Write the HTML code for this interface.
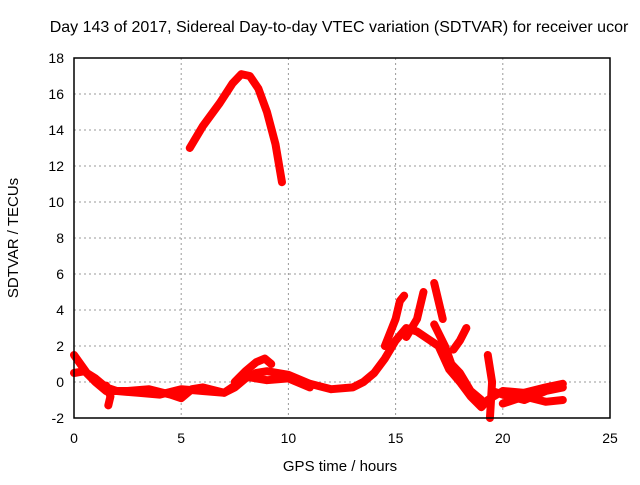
<!DOCTYPE html>
<html><head><meta charset="utf-8"><style>
body{margin:0;background:#fff}
svg text{font-family:"Liberation Sans",sans-serif;font-size:14px;fill:#000}
</style></head><body>
<svg id="c" width="640" height="480">
<rect width="640" height="480" fill="#fff"/>
<text x="339" y="32" text-anchor="middle" style="font-size:16px">Day 143 of 2017, Sidereal Day-to-day VTEC variation (SDTVAR) for receiver ucor</text>
<g id="grid"></g><g id="data"></g>
<rect x="74" y="58" width="536" height="360" fill="none" stroke="#000" stroke-width="1.5"/>
<text x="340" y="471" text-anchor="middle" style="font-size:15px">GPS time / hours</text>
<text transform="translate(18,238) rotate(-90)" text-anchor="middle" style="font-size:15px">SDTVAR / TECUs</text>
</svg>
<script>
const xTicks=[0,5,10,15,20,25];
const yTicks=[-2,0,2,4,6,8,10,12,14,16,18];
const trackPeak=[[5.4,13],[6,14.2],[6.8,15.5],[7.4,16.6],[7.8,17.1],[8.2,17],[8.6,16.3],[9,15],[9.4,13.2],[9.7,11.1]];
const trackLow1=[[0,1.5],[0.3,1.0],[0.6,0.5],[1,0.2],[1.5,-0.3],[2,-0.5],[3,-0.6],[4,-0.7],[5,-0.4],[6,-0.5],[7,-0.6],[7.5,-0.3],[8,0.2],[8.5,0.5],[9,0.6],[10,0.4],[11,-0.1],[12,-0.4],[13,-0.3],[13.5,0],[14,0.5],[14.5,1.3],[15,2.3],[15.5,3],[16,2.8],[16.5,2.4],[17,2],[17.5,0.7],[18,0],[18.5,-0.8],[19,-1.4],[19.3,-1],[20,-0.5],[21,-0.6],[22,-0.3],[22.8,-0.1]];
const trackLow2=[[0,0.5],[0.5,0.6],[1,0],[1.5,-0.5],[2.5,-0.5],[3.5,-0.4],[4.5,-0.7],[5,-0.9],[5.5,-0.4],[6,-0.3],[7,-0.6],[7.5,-0.2],[8,0.3],[9,0.1],[10,0.2],[11,-0.3]];
const trackLow3=[[1.5,-0.2],[1.7,-0.8],[1.6,-1.3]];
const trackBump=[[7.5,0],[8,0.6],[8.5,1.1],[8.9,1.3],[9.2,1.0]];
const trackRise1=[[14.5,2],[15,3.5],[15.2,4.5],[15.4,4.8]];
const trackRise2=[[15.5,2.5],[16,3.5],[16.3,5]];
const trackFall1=[[16.8,5.5],[17,4.5],[17.2,3.5]];
const trackFall2=[[16.8,3.2],[17.3,2],[17.6,1],[18,0.5],[18.5,-0.5],[19,-1]];
const trackSpur=[[17.7,1.8],[18,2.3],[18.3,3]];
const trackDrop=[[19.3,1.5],[19.5,0],[19.4,-2]];
const trackTail1=[[19.5,-0.5],[20,-0.7],[21,-1],[22,-0.5],[22.8,-0.3]];
const trackTail2=[[20,-1.2],[21,-0.8],[22,-1.1],[22.8,-1]];
const tracks=[trackPeak,trackLow1,trackLow2,trackLow3,trackBump,trackRise1,trackRise2,trackFall1,trackFall2,trackSpur,trackDrop,trackTail1,trackTail2];
const X=h=>74+h*536/25, Y=v=>58+(18-v)*18;
const ns="http://www.w3.org/2000/svg";
const g=document.getElementById('grid'), d=document.getElementById('data');
xTicks.forEach(t=>{
 if(t>0&&t<25){const l=document.createElementNS(ns,'line');l.setAttribute('x1',X(t));l.setAttribute('x2',X(t));l.setAttribute('y1',58);l.setAttribute('y2',418);l.setAttribute('stroke','#999');l.setAttribute('stroke-dasharray','2,3');
 
 g.appendChild(l);}
 const tx=document.createElementNS(ns,'text');tx.setAttribute('x',X(t));tx.setAttribute('y',443);tx.setAttribute('text-anchor','middle');tx.textContent=t;
 
 g.appendChild(tx);
});
yTicks.forEach(t=>{
 if(t>-2&&t<18){const l=document.createElementNS(ns,'line');l.setAttribute('x1',74);l.setAttribute('x2',610);l.setAttribute('y1',Y(t));l.setAttribute('y2',Y(t));l.setAttribute('stroke','#999');l.setAttribute('stroke-dasharray','2,3');
 
 g.appendChild(l);}
 const tx=document.createElementNS(ns,'text');tx.setAttribute('x',64);tx.setAttribute('y',Y(t)+5);tx.setAttribute('text-anchor','end');tx.textContent=t;
 
 g.appendChild(tx);
});
tracks.forEach(tr=>{
 const p=document.createElementNS(ns,'polyline');
 p.setAttribute('points',tr.map(q=>X(q[0])+','+Y(q[1])).join(' '));
 p.setAttribute('fill','none');p.setAttribute('stroke','#f00');p.setAttribute('stroke-width','8');p.setAttribute('stroke-linejoin','round');p.setAttribute('stroke-linecap','round');
 
 
 d.appendChild(p);
});
</script>
</body></html>
